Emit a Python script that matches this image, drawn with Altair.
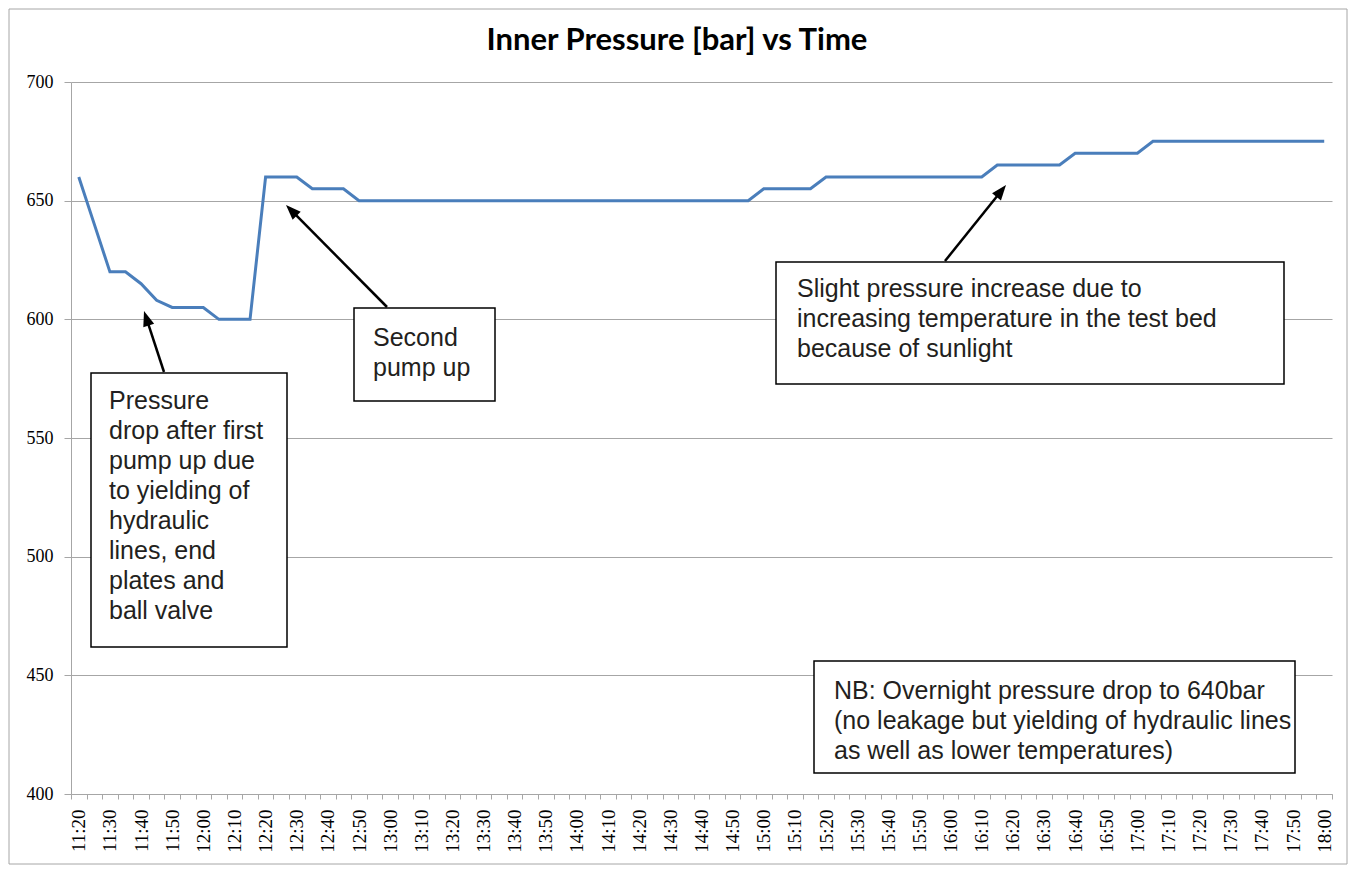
import math
import altair as alt
import pandas as pd

times = [
    "11:20", "11:25", "11:30", "11:35", "11:40", "11:45", "11:50", "11:55",
    "12:00", "12:05", "12:10", "12:15", "12:20", "12:25", "12:30", "12:35",
    "12:40", "12:45", "12:50", "12:55", "13:00", "13:05", "13:10", "13:15",
    "13:20", "13:25", "13:30", "13:35", "13:40", "13:45", "13:50", "13:55",
    "14:00", "14:05", "14:10", "14:15", "14:20", "14:25", "14:30", "14:35",
    "14:40", "14:45", "14:50", "14:55", "15:00", "15:05", "15:10", "15:15",
    "15:20", "15:25", "15:30", "15:35", "15:40", "15:45", "15:50", "15:55",
    "16:00", "16:05", "16:10", "16:15", "16:20", "16:25", "16:30", "16:35",
    "16:40", "16:45", "16:50", "16:55", "17:00", "17:05", "17:10", "17:15",
    "17:20", "17:25", "17:30", "17:35", "17:40", "17:45", "17:50", "17:55",
    "18:00",
]
pressure = [
    660, 640, 620, 620, 615, 608, 605, 605,
    605, 600, 600, 600, 660, 660, 660, 655,
    655, 655, 650, 650, 650, 650, 650, 650,
    650, 650, 650, 650, 650, 650, 650, 650,
    650, 650, 650, 650, 650, 650, 650, 650,
    650, 650, 650, 650, 655, 655, 655, 655,
    660, 660, 660, 660, 660, 660, 660, 660,
    660, 660, 660, 665, 665, 665, 665, 665,
    670, 670, 670, 670, 670, 675, 675, 675,
    675, 675, 675, 675, 675, 675, 675, 675,
    675,
]
y_ticks = [400, 450, 500, 550, 600, 650, 700]

title_text = "Inner Pressure [bar] vs Time"
note1 = "Pressure\ndrop after first\npump up due\nto yielding of\nhydraulic\nlines, end\nplates and\nball valve"
note2 = "Second\npump up"
note3 = "Slight pressure increase due to\nincreasing temperature in the test bed\nbecause of sunlight"
note4 = "NB: Overnight pressure drop to 640bar\n(no leakage but yielding of hydraulic lines\nas well as lower temperatures)"

W, H = 1261, 712
GRID = "#a6a6a6"
SERIF = "Liberation Serif"
SANS = "Liberation Sans"

df = pd.DataFrame({"time": times, "pressure": pressure})


def one(text=""):
    return alt.Chart(pd.DataFrame({"t": [text]}))


line = alt.Chart(df).mark_line(color="#4A7EBB", strokeWidth=3).encode(
    x=alt.X(
        "time:O",
        sort=times,
        bandPosition=0.5,
        scale=alt.Scale(type="band", paddingInner=0, paddingOuter=0),
        axis=alt.Axis(
            title=None,
            tickBand="extent",
            labelAngle=270,
            labelExpr="substring(datum.label, 4, 5) == '0' ? datum.label : ''",
            labelOverlap=False,
            labelFont=SERIF,
            labelFontSize=19,
            labelColor="#000000",
            labelPadding=10,
            tickSize=5,
            tickColor=GRID,
            domainColor=GRID,
            grid=False,
        ),
    ),
    y=alt.Y(
        "pressure:Q",
        scale=alt.Scale(domain=[400, 700], nice=False, zero=False),
        axis=alt.Axis(
            title=None,
            values=y_ticks,
            labelFont=SERIF,
            labelFontSize=18,
            labelColor="#000000",
            labelPadding=11,
            tickSize=7,
            tickColor=GRID,
            domainColor=GRID,
            grid=True,
            gridColor=GRID,
            gridWidth=1,
        ),
    ),
)

# outer chart border
border = one().mark_rect(fillOpacity=0, stroke=GRID, strokeWidth=1).encode(
    x=alt.value(-62), x2=alt.value(1276), y=alt.value(-73), y2=alt.value(782)
)

title = one(title_text).mark_text(
    font="Lato", fontWeight="bold", fontSize=31, align="center",
    baseline="alphabetic", color="#000000",
).encode(x=alt.value(606), y=alt.value(-32), text="t:N")


def box(x1, y1, x2, y2):
    return one().mark_rect(fill="white", stroke="#000000", strokeWidth=1.5).encode(
        x=alt.value(x1), x2=alt.value(x2), y=alt.value(y1), y2=alt.value(y2)
    )


def note(text, x, y):
    return one(text).mark_text(
        font=SANS, fontSize=25, align="left", baseline="alphabetic",
        lineBreak="\n", lineHeight=30, color="#231f20",
    ).encode(x=alt.value(x), y=alt.value(y), text="t:N")


def arrow(tail, tip):
    dx, dy = tip[0] - tail[0], tip[1] - tail[1]
    L = math.hypot(dx, dy)
    ux, uy = dx / L, dy / L
    size = 230
    r = math.sqrt(size) / 2
    cx, cy = tip[0] - ux * r, tip[1] - uy * r
    ang = math.degrees(math.atan2(dx, -dy)) % 360
    shaft = one().mark_rule(color="#000000", strokeWidth=2.5).encode(
        x=alt.value(tail[0]), y=alt.value(tail[1]),
        x2=alt.value(cx), y2=alt.value(cy),
    )
    head = one().mark_point(
        shape="M0,-1L0.75,1L-0.75,1Z", filled=True, color="#000000",
        opacity=1, size=size, angle=ang, strokeWidth=0,
    ).encode(x=alt.value(cx), y=alt.value(cy))
    return [shaft, head]


layers = [border, line, title]
layers += [box(20, 291, 216, 565), note(note1, 38, 327)]
layers += [box(283, 226, 424, 319), note(note2, 302, 264)]
layers += [box(705, 180, 1213, 302), note(note3, 726, 215)]
layers += [box(743, 579, 1224, 691), note(note4, 763, 617)]
layers += arrow((93, 290), (73, 229))
layers += arrow((316, 225), (215, 123))
layers += arrow((874, 179), (935, 103))

chart = alt.layer(*layers).properties(
    width=W, height=H, padding=0, background="white"
).configure_view(stroke=None)

chart.save("out.html", embed_options={"renderer": "svg", "actions": False})
